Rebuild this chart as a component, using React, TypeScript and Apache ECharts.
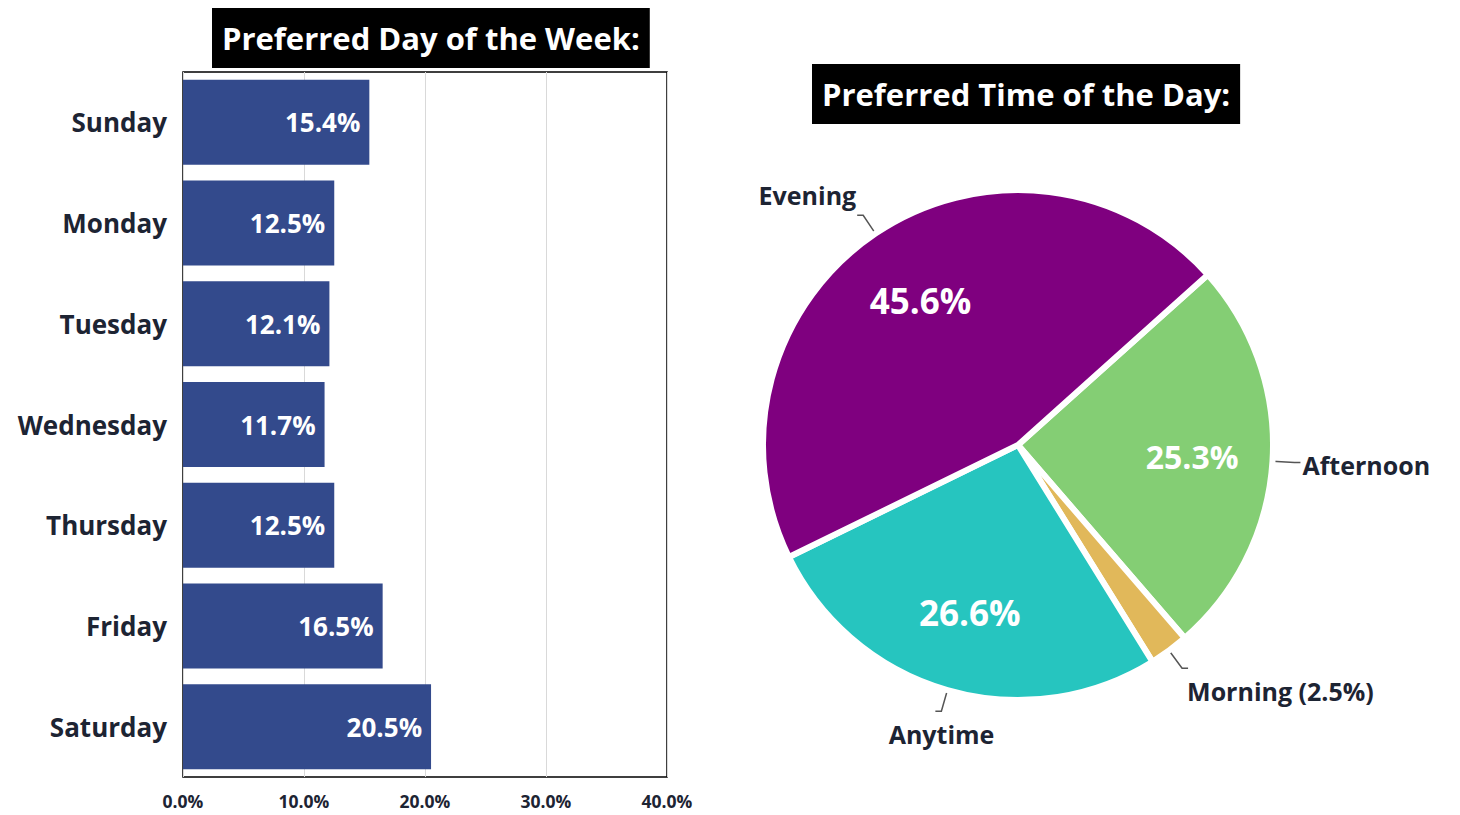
import React, { useEffect, useRef } from "react";
import * as echarts from "echarts";

const days = ["Sunday", "Monday", "Tuesday", "Wednesday", "Thursday", "Friday", "Saturday"];
const dayShares = [15.4, 12.5, 12.1, 11.7, 12.5, 16.5, 20.5];
const xTicks = { min: 0, max: 40, interval: 10 };

const timeNames = ["Afternoon", "Morning", "Anytime", "Evening"];
const timeShares = [25.3, 2.5, 26.6, 45.6];
const timeColors = ["#84CE74", "#E1B85A", "#26C5BF", "#7F007F"];

const FONT = "Open Sans";
const TEXT = "#1d2433";

export default function App() {
  const ref = useRef<HTMLDivElement>(null);
  useEffect(() => {
    document.body.style.margin = "0";
    const chart = echarts.init(ref.current!, null, { renderer: "svg" });
    const innerSizes: Record<string, number> = { Afternoon: 32, Morning: 0, Anytime: 35, Evening: 35 };
    const outerShift: Record<string, [number, number]> = {
      Afternoon: [-3, 2],
      Morning: [-6, 23],
      Anytime: [64, 23],
      Evening: [4, -20],
    };
    const pieData = timeNames.map((n, i) => ({
      name: n,
      value: timeShares[i],
      itemStyle: { color: timeColors[i] },
    }));
    const titleStyle = { color: "#fff", fontSize: 31, fontWeight: "bold", fontFamily: FONT, lineHeight: 34 };
    chart.setOption({
      animation: false,
      title: [
        {
          text: "Preferred Day of the Week:",
          left: 212,
          top: 8,
          backgroundColor: "#000",
          padding: [13, 10, 13, 10],
          textStyle: titleStyle,
        },
        {
          text: "Preferred Time of the Day:",
          left: 812,
          top: 64,
          backgroundColor: "#000",
          padding: [13, 10, 13, 10],
          textStyle: titleStyle,
        },
      ],
      grid: {
        left: 183,
        top: 72,
        width: 484,
        height: 705,
        show: true,
        borderColor: "#000",
        borderWidth: 1.5,
        containLabel: false,
      },
      xAxis: {
        type: "value",
        min: xTicks.min,
        max: xTicks.max,
        interval: xTicks.interval,
        axisLine: { show: false },
        axisTick: { show: false },
        splitLine: { lineStyle: { color: "#d9d9d9", width: 1 } },
        axisLabel: {
          formatter: (v: number) => v.toFixed(1) + "%",
          fontFamily: FONT,
          fontWeight: "bold",
          fontSize: 17.5,
          color: TEXT,
          margin: 15,
        },
      },
      yAxis: {
        type: "category",
        data: days,
        inverse: true,
        axisLine: { show: false },
        axisTick: { show: false },
        axisLabel: {
          fontFamily: FONT,
          fontWeight: "bold",
          fontSize: 26,
          color: TEXT,
          margin: 16,
        },
      },
      series: [
        {
          type: "bar",
          data: dayShares,
          barWidth: 85,
          itemStyle: { color: "#334A8C" },
          label: {
            show: true,
            position: "insideRight",
            distance: 9,
            formatter: (p: any) => p.value.toFixed(1) + "%",
            color: "#fff",
            fontFamily: FONT,
            fontWeight: "bold",
            fontSize: 26,
          },
        },
        {
          type: "pie",
          center: [1018, 445],
          radius: 255,
          startAngle: 41.9,
          clockwise: true,
          avoidLabelOverlap: false,
          minShowLabelAngle: 0,
          data: pieData,
          itemStyle: { borderColor: "#fff", borderWidth: 6 },
          label: {
            show: true,
            position: "outside",
            formatter: (p: any) => (p.name === "Morning" ? `${p.name} (${p.value}%)` : p.name),
            fontFamily: FONT,
            fontWeight: "bold",
            fontSize: 25,
            color: TEXT,
          },
          labelLine: { show: true, length: 22, length2: 6, lineStyle: { color: "#555", width: 1.5 } },
          labelLayout: (p: any) => {
            const s = outerShift[timeNames[p.dataIndex]];
            return { dx: s[0], dy: s[1] };
          },
          emphasis: { disabled: true },
        },
        {
          type: "pie",
          center: [1018, 445],
          radius: [90, 253],
          startAngle: 41.9,
          clockwise: true,
          silent: true,
          avoidLabelOverlap: false,
          data: pieData.map((d) => ({
            name: d.name,
            value: d.value,
            itemStyle: { color: "rgba(0,0,0,0)" },
            label: { show: innerSizes[d.name] > 0, fontSize: innerSizes[d.name] || 12 },
          })),
          label: {
            position: "inside",
            formatter: (p: any) => p.value.toFixed(1) + "%",
            color: "#fff",
            fontFamily: FONT,
            fontWeight: "bold",
          },
          labelLine: { show: false },
          emphasis: { disabled: true },
        },
      ],
    });
    return () => chart.dispose();
  }, []);
  return <div ref={ref} style={{ width: 1460, height: 815 }} />;
}
